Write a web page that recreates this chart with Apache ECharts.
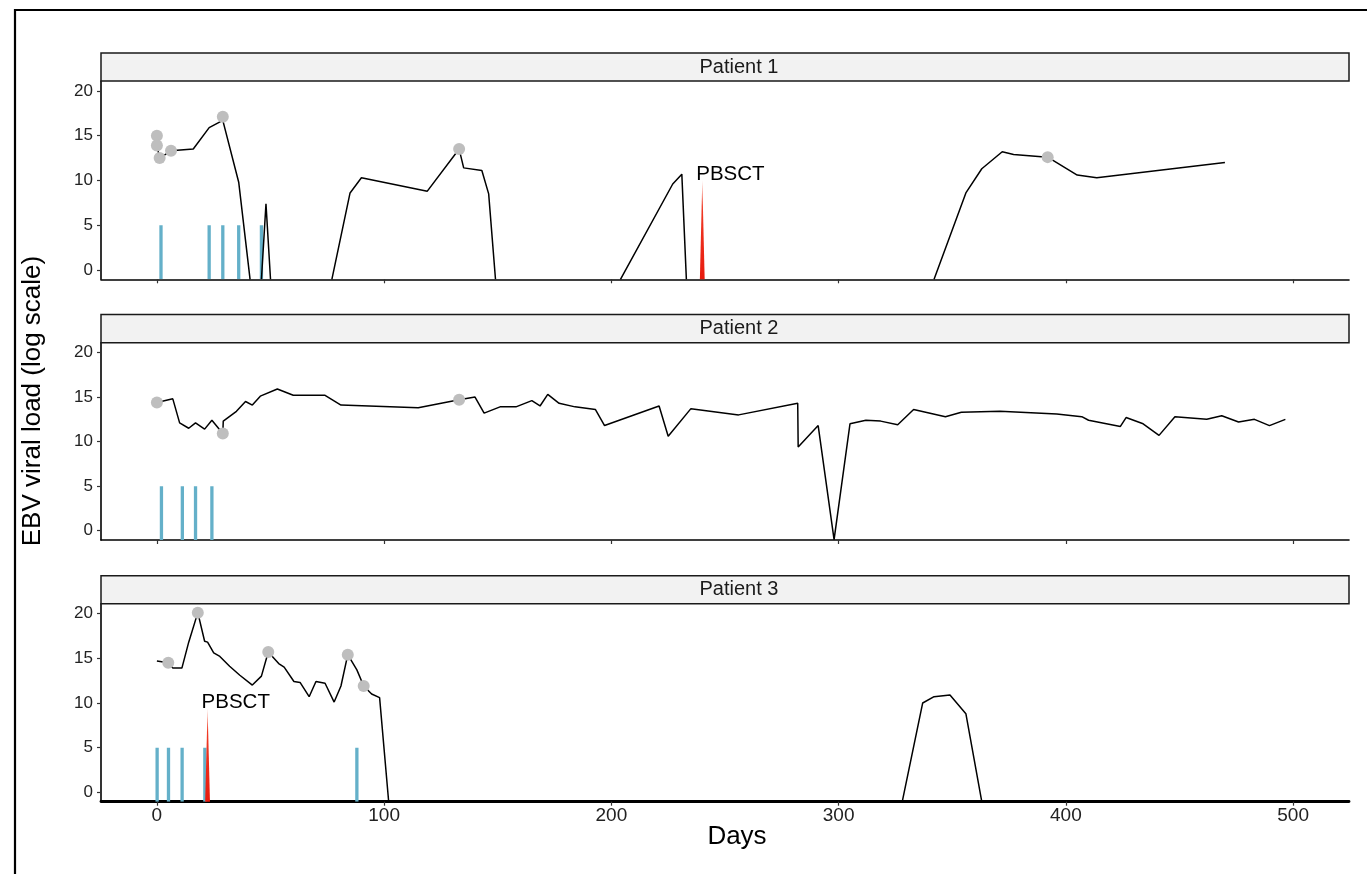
<!DOCTYPE html>
<html><head><meta charset="utf-8">
<script src="https://cdn.jsdelivr.net/npm/echarts@6/dist/echarts.min.js"></script>
<style>html,body{margin:0;padding:0;background:#fff}#c{width:1367px;height:874px}</style>
</head><body><div id="c"></div>
<script>
// ---------- data ----------
const panelNames = ['Patient 1', 'Patient 2', 'Patient 3'];
const xTicks = [0, 100, 200, 300, 400, 500];
const yTicks = [0, 5, 10, 15, 20];

// viral load lines (null = break where the line leaves the plotted range)
const p1Load = [[0,15.0],[0,13.9],[1.2,12.5],[6.2,13.3],[16,13.5],[23,15.9],[29,16.7],[36,9.8],[41,-1.04],null,
  [46,-1.04],[48,7.4],[50,-1.04],null,
  [77,-1.04],[85,8.6],[90,10.3],[119,8.8],[133,13.5],[135,11.4],[143,11.1],[146,8.5],[149,-1.04],null,
  [204,-1.04],[227,9.6],[231,10.7],[233,-1.04],null,
  [342,-1.04],[356,8.6],[363,11.3],[372,13.2],[377,12.9],[392,12.6],[405,10.6],[413.6,10.3],[470,12.0]];
const p2Load = [[0,14.4],[7,14.8],[10,12.1],[14,11.5],[17,12.1],[21,11.4],[24.2,12.4],[29,10.9],[29.2,12.3],
  [35,13.4],[39,14.5],[42,14.1],[45.5,15.1],[53,15.9],[60,15.2],[74,15.2],[81,14.1],[115,13.8],[133,14.7],
  [140,15.0],[144,13.2],[151,13.9],[158,13.9],[165,14.6],[168.6,14.0],[172,15.3],[177,14.3],[184,13.9],
  [193,13.6],[197,11.8],[221,14.0],[225,10.6],[235,13.7],[256,13.0],[282,14.3],[282.2,9.4],[291,11.8],
  [298,-1.0],[305,12.0],[312,12.4],[318.5,12.3],[326,11.9],[333,13.6],[347,12.8],[354,13.3],[371,13.4],
  [396,13.1],[407,12.8],[410,12.4],[424,11.7],[426.5,12.7],[434,12.0],[441,10.7],[448,12.8],[462,12.5],
  [468.6,12.9],[476,12.2],[483,12.5],[489.6,11.8],[496.6,12.5]];
const p3Load = [[0,14.7],[5,14.5],[7,13.9],[11,13.9],[14,16.8],[18,20.1],[21,16.9],[22.3,16.8],[25,15.6],
  [27.7,15.2],[32,14.1],[36.5,13.1],[42,12.0],[46,13.0],[49,15.7],[53.6,14.4],[56,14.0],[60.3,12.4],
  [63,12.3],[67,10.7],[70,12.4],[74,12.2],[78,10.1],[81,11.9],[84,15.4],[88,13.7],[91,11.9],[94.5,11.0],
  [98,10.6],[102,-1.04],null,
  [328,-1.04],[337,10.0],[342,10.7],[349,10.9],[356,8.8],[363,-1.04]];

// grey sample points
const p1Samples = [[0,15.0],[0,13.9],[1.2,12.5],[6.2,13.3],[29,17.1],[133,13.5],[392,12.6]];
const p2Samples = [[0,14.4],[29,10.9],[133,14.7]];
const p3Samples = [[5,14.5],[18,20.1],[49,15.7],[84,15.4],[91,11.9]];

// treatment days (blue marks, height 5)
const p1Treat = [1.8, 23, 29, 36, 46];
const p2Treat = [2, 11.2, 17, 24.2];
const p3Treat = [0.1, 5.1, 11.1, 21.1, 88];
const treatHeight = 5;

// PBSCT [day, mark height] (red marks with label)
const p1Pbsct = [[240, 10]];
const p2Pbsct = [];
const p3Pbsct = [[22.3, 9.4]];
const pbsctLabel = 'PBSCT';

// ---------- layout ----------
const X_MIN = -24.6, X_MAX = 524.6;
const Y_MIN = -1.04, Y_MAX = 21.1;
const FONT = '"Liberation Sans", Arial, Helvetica, sans-serif';
const grids = [
  {left: 101, top: 81, width: 1248, height: 198.3},
  {left: 101, top: 342.7, width: 1248, height: 197.3},
  {left: 101, top: 603.7, width: 1248, height: 198}
];
const strips = [{y: 53, h: 28}, {y: 314.5, h: 28.2}, {y: 575.7, h: 28}];

const loads = [p1Load, p2Load, p3Load];
const samples = [p1Samples, p2Samples, p3Samples];
const treats = [p1Treat, p2Treat, p3Treat];
const pbscts = [p1Pbsct, p2Pbsct, p3Pbsct];

function splitSegments(arr) {
  const segs = []; let cur = [];
  arr.forEach(p => { if (p === null) { if (cur.length) segs.push(cur); cur = []; } else cur.push(p); });
  if (cur.length) segs.push(cur);
  return segs;
}

const xAxes = [], yAxes = [], series = [];
grids.forEach((g, i) => {
  const last = i === grids.length - 1;
  xAxes.push({
    gridIndex: i, type: 'value', min: X_MIN, max: X_MAX,
    axisLine: {show: true, onZero: false, lineStyle: {color: '#000', width: last ? 2.8 : 1.6}},
    axisTick: {show: true, customValues: xTicks, length: 4, lineStyle: {color: '#333', width: 1.2}},
    axisLabel: {show: last, customValues: xTicks, fontSize: 19, color: '#222', fontFamily: FONT, margin: 5},
    splitLine: {show: false}
  });
  yAxes.push({
    gridIndex: i, type: 'value', min: Y_MIN, max: Y_MAX,
    axisLine: {show: true, onZero: false, lineStyle: {color: '#000', width: 1.6}},
    axisTick: {show: true, customValues: yTicks, length: 4, lineStyle: {color: '#333', width: 1.2}},
    axisLabel: {customValues: yTicks, fontSize: 17, color: '#222', fontFamily: FONT, margin: 8},
    splitLine: {show: false}
  });
  // blue treatment marks
  series.push({
    type: 'custom', xAxisIndex: i, yAxisIndex: i, z: 2, clip: true,
    data: treats[i].map(d => [d, treatHeight]),
    encode: {x: 0, y: 1},
    renderItem: (params, api) => {
      const top = api.coord([api.value(0), api.value(1)]);
      const bot = api.coord([api.value(0), Y_MIN]);
      return {type: 'line', shape: {x1: top[0], y1: top[1], x2: bot[0], y2: bot[1]},
        style: {stroke: '#64B0C9', lineWidth: 3.3}};
    }
  });
  // red PBSCT wedge + label
  series.push({
    type: 'custom', xAxisIndex: i, yAxisIndex: i, z: 3, clip: false,
    data: pbscts[i],
    encode: {x: 0, y: 1},
    renderItem: (params, api) => {
      const tip = api.coord([api.value(0), api.value(1)]);
      const bot = api.coord([api.value(0), Y_MIN]);
      return {type: 'group', children: [
        {type: 'polygon', shape: {points: [[bot[0] - 2.4, bot[1]], [bot[0] + 2.4, bot[1]], [tip[0], tip[1]]]},
          style: {fill: new echarts.graphic.LinearGradient(0, 0, 0, 1, [{offset: 0, color: '#F8A090'}, {offset: 0.25, color: '#F03A25'}, {offset: 1, color: '#E81B0E'}])}},
        {type: 'text', x: tip[0] - 6, y: tip[1] - 6,
          style: {text: pbsctLabel, fontSize: 20.5, fontFamily: FONT, fill: '#000', align: 'left', verticalAlign: 'middle'}}
      ]};
    }
  });
  // black viral load line
  splitSegments(loads[i]).forEach(seg => {
    series.push({
      type: 'line', xAxisIndex: i, yAxisIndex: i, z: 4, data: seg, showSymbol: false, symbol: 'none',
      clip: true, lineStyle: {color: '#000', width: 1.5}, animation: false
    });
  });
  // grey sample points
  series.push({
    type: 'scatter', xAxisIndex: i, yAxisIndex: i, z: 5, data: samples[i], symbolSize: 12,
    itemStyle: {color: '#BEBEBE', opacity: 1}
  });
});

const graphic = [
  {type: 'rect', shape: {x: 15, y: 10, width: 1400, height: 900}, style: {fill: 'none', stroke: '#000', lineWidth: 2.2}, z: 100},
  {type: 'text', x: 33, y: 401, rotation: Math.PI / 2,
    style: {text: 'EBV viral load (log scale)', fontSize: 26, fontFamily: FONT, fill: '#000', align: 'center', verticalAlign: 'middle'}},
  {type: 'text', x: 737, y: 837,
    style: {text: 'Days', fontSize: 26, fontFamily: FONT, fill: '#000', align: 'center', verticalAlign: 'middle'}}
];
strips.forEach((s, i) => {
  graphic.push({type: 'rect', shape: {x: 101, y: s.y, width: 1248, height: s.h},
    style: {fill: '#F2F2F2', stroke: '#1A1A1A', lineWidth: 1.5}, z: 50});
  graphic.push({type: 'text', x: 739, y: s.y + s.h / 2, z: 51,
    style: {text: panelNames[i], fontSize: 20, fontFamily: FONT, fill: '#1A1A1A', align: 'center', verticalAlign: 'middle'}});
});

const chart = echarts.init(document.getElementById('c'), null, {renderer: 'canvas'});
chart.setOption({
  animation: false,
  backgroundColor: '#fff',
  grid: grids.map(g => Object.assign({containLabel: false}, g)),
  xAxis: xAxes, yAxis: yAxes, series: series, graphic: graphic
});
</script></body></html>
